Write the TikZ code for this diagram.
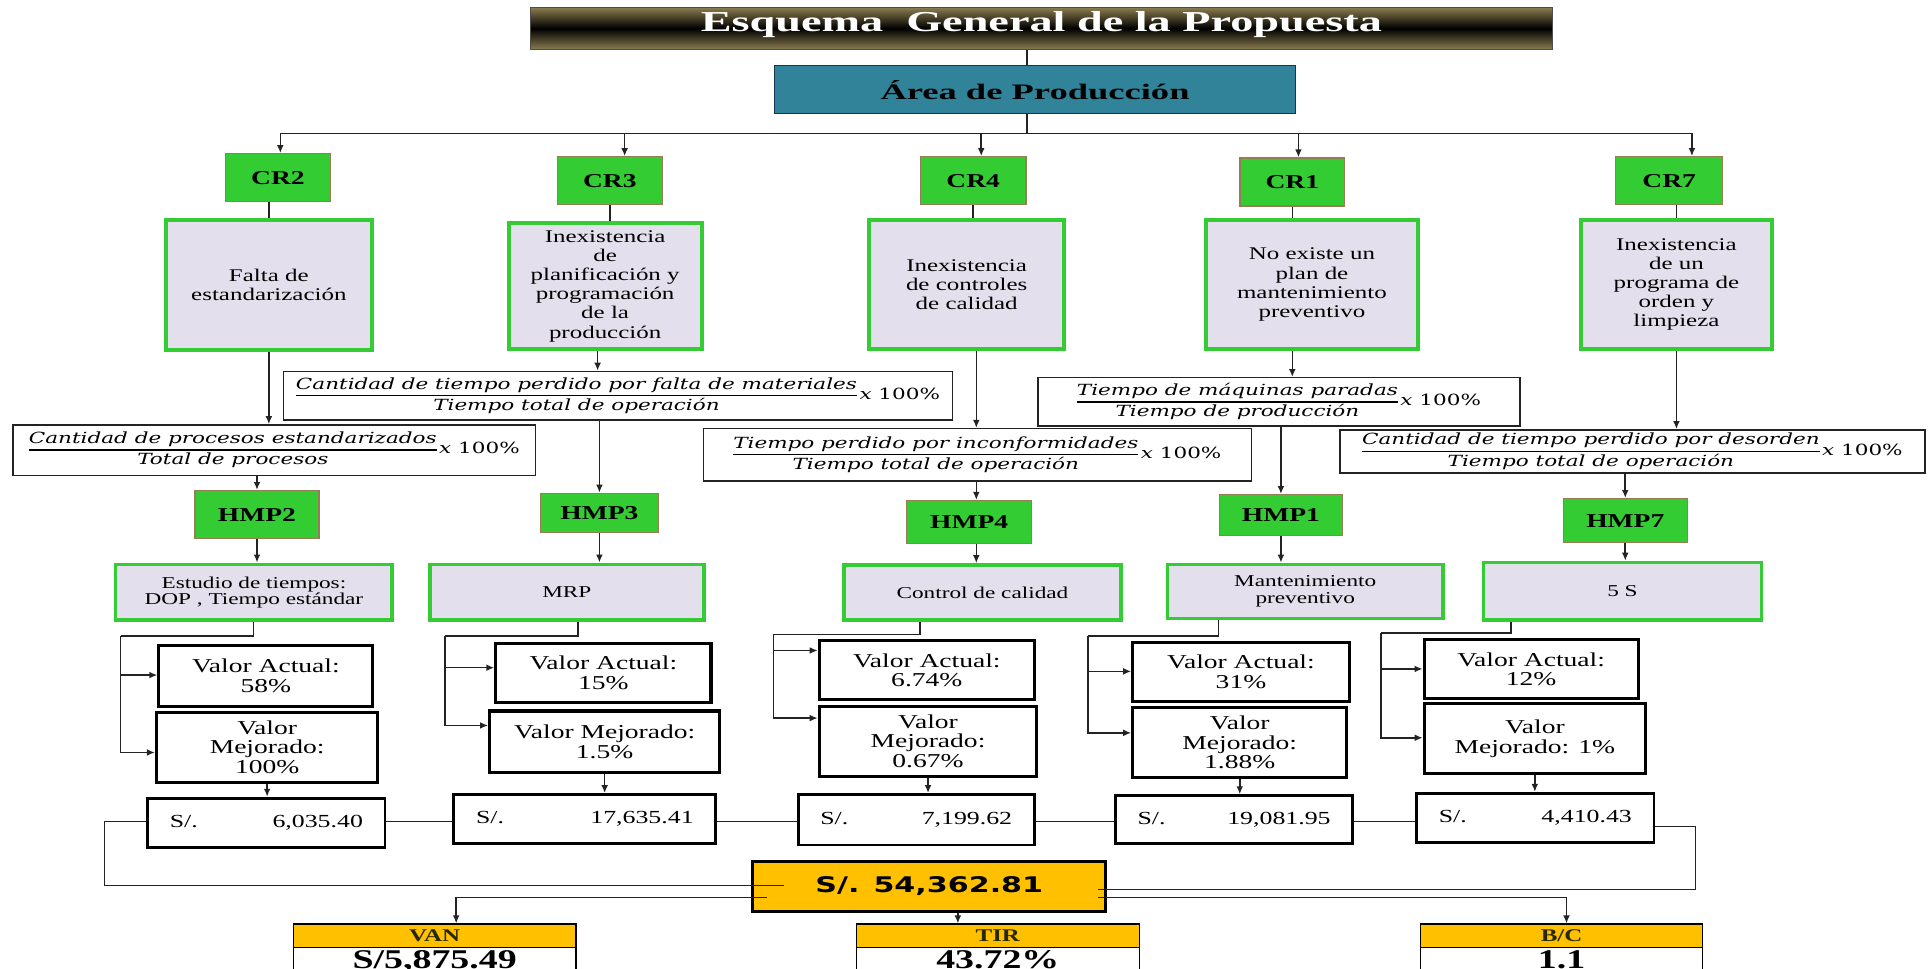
\documentclass[tikz,border=0pt]{standalone}
\usepackage{fontspec}
\setmainfont[FakeStretch=1.4]{Liberation Serif}
\newfontfamily\headfont[FakeStretch=1.6]{Liberation Serif}
\newfontfamily\areafont[FakeStretch=1.65]{Liberation Serif}
\newfontfamily\formfont[FakeStretch=1.4]{DejaVu Serif}
\newfontfamily\sumfont[FakeStretch=1.4]{DejaVu Sans}
\usetikzlibrary{arrows.meta}

\definecolor{crgreen}{RGB}{51,204,51}
\definecolor{crline}{RGB}{150,125,85}
\definecolor{lav}{RGB}{228,223,236}
\definecolor{areateal}{RGB}{48,131,153}
\definecolor{areaedge}{RGB}{30,50,80}
\definecolor{gold}{RGB}{255,192,0}
\definecolor{olivebar}{RGB}{140,126,80}
\definecolor{linegray}{RGB}{35,35,35}
\definecolor{headtext}{RGB}{40,40,0}

\setlength{\arrayrulewidth}{1.1pt}
\newcommand\ratio[2]{\renewcommand\arraystretch{1.08}\begin{tabular}{@{}c@{}}#1\\\hline #2\end{tabular}\,x {\upshape 100\%}}
\newcommand\money[2]{\hbox to #1pt{S/.\hfill #2}}

\tikzset{
  corners/.style n args={4}{at={(#1,#2)}, anchor=north west,
    minimum width={(#3-#1)*1pt}, minimum height={(#4-#2)*1pt}},
  titlebar/.style={draw=black!70, line width=0.8pt, top color=olivebar,
    bottom color=olivebar, middle color=black, text=white,
    font=\headfont\fontsize{23.5}{26}\selectfont\bfseries, inner sep=0pt,
    text height=16pt, text depth=11pt},
  areabox/.style={draw=areaedge, line width=1pt, fill=areateal,
    font=\areafont\fontsize{18}{21}\selectfont\bfseries, inner sep=0pt},
  crbox/.style={draw=crline, line width=1pt, fill=crgreen,
    font=\fontsize{16}{18}\selectfont\bfseries, inner sep=0pt},
  probbox/.style={draw=crgreen, line width=3.3pt, fill=lav, align=center,
    font=\fontsize{14.5}{15.5}\selectfont, inner sep=1pt},
  toolbox/.style={draw=crgreen, line width=3pt, fill=lav, align=center,
    font=\fontsize{13.5}{13.5}\selectfont, inner sep=1pt},
  formbox/.style={draw=linegray, line width=1.2pt, fill=white, inner sep=0pt,
    font=\formfont\itshape\fontsize{12.5}{15}\selectfont},
  valbox/.style={draw=black, line width=2.5pt, fill=white, align=center,
    font=\fontsize{16}{16}\selectfont, inner sep=1pt},
  moneybox/.style={draw=black, line width=2.3pt, fill=white,
    font=\fontsize{15}{17}\selectfont, inner xsep=18pt, inner ysep=0pt},
  totbox/.style={draw=black, line width=2.5pt, fill=gold,
    font=\sumfont\bfseries\fontsize{17.5}{20}\selectfont, inner sep=0pt},
  headbox/.style={draw=black, line width=1pt, fill=gold, text=headtext,
    font=\fontsize{14.5}{16}\selectfont\bfseries, inner sep=0pt},
  resbox/.style={draw=black, line width=1pt, fill=white, inner sep=0pt},
  restext/.style={anchor=base, font=\fontsize{22}{24}\selectfont\bfseries},
  conn/.style={draw=linegray, line width=1.3pt},
  arr/.style={conn, -{Latex[length=6.5pt,width=5.5pt]}},
}

\begin{document}
\begin{tikzpicture}[x=1pt, y=-1pt]
\clip (0,0) rectangle (1568,788);
\fill[white] (0,0) rectangle (1568,788);

% header
\node[titlebar, corners={431}{5.4}{1262}{40}] (title) {Esquema\ \ General de la Propuesta};
\node[areabox, corners={629.5}{53}{1053}{92}] (area) {Área de Producción};

% root causes
\node[crbox, corners={183}{124.5}{268}{163.5}] (cr2) {CR2};
\node[crbox, corners={453}{127}{538}{166}] (cr3) {CR3};
\node[crbox, corners={748}{127}{834}{166}] (cr4) {CR4};
\node[crbox, corners={1008}{128}{1093}{167}] (cr1) {CR1};
\node[crbox, corners={1313.5}{127}{1400.5}{166}] (cr7) {CR7};

\node[probbox, corners={133}{177}{301}{283}] (p2) {Falta de\\estandarización};
\node[probbox, corners={412}{180}{569}{282.5}] (p3) {Inexistencia\\de\\planificación y\\programación\\de la\\producción};
\node[probbox, corners={705}{177}{864}{282.5}] (p4) {Inexistencia\\de controles\\de calidad};
\node[probbox, corners={979}{177}{1151.6}{282.5}] (p1) {No existe un\\plan de\\mantenimiento\\preventivo};
\node[probbox, corners={1284}{177}{1439.5}{282.5}] (p7) {Inexistencia\\de un\\programa de\\orden y\\limpieza};

% indicators
\node[formbox, corners={10}{345}{435}{386}] (f2) {\ratio{Cantidad de procesos estandarizados}{Total de procesos}};
\node[formbox, corners={230}{301.5}{774}{341}] (f3) {\ratio{Cantidad de tiempo perdido por falta de materiales}{Tiempo total de operación}};
\node[formbox, corners={571.5}{348}{1017}{390.4}] (f4) {\ratio{Tiempo perdido por inconformidades}{Tiempo total de operación}};
\node[formbox, corners={843.6}{306.6}{1235.5}{346}] (f1) {\ratio{Tiempo de máquinas paradas}{Tiempo de producción}};
\node[formbox, corners={1089}{349}{1565}{384}] (f7) {\ratio{Cantidad de tiempo perdido por desorden}{Tiempo total de operación}};

% improvement tools
\node[crbox, corners={158}{398.5}{259}{437.6}] (h2) {HMP2};
\node[crbox, corners={439}{400.7}{535}{432.7}] (h3) {HMP3};
\node[crbox, corners={737}{406.6}{838.5}{441.8}] (h4) {HMP4};
\node[crbox, corners={991.5}{401.8}{1091}{435}] (h1) {HMP1};
\node[crbox, corners={1271}{405}{1371.6}{441}] (h7) {HMP7};

\node[toolbox, corners={92.5}{457.5}{317.5}{503}] (t2) {Estudio de tiempos:\\DOP , Tiempo estándar};
\node[toolbox, corners={348}{457.5}{571}{503}] (t3) {MRP};
\node[toolbox, corners={685}{458}{910}{503}] (t4) {Control de calidad};
\node[toolbox, corners={948}{457.6}{1172}{501.5}] (t1) {Mantenimiento\\preventivo};
\node[toolbox, corners={1205}{456}{1431}{503}] (t7) {5 S};

% current / improved values
\node[valbox, corners={128}{524}{302}{573}] (va2) {Valor Actual:\\58\%};
\node[valbox, corners={126}{578}{306}{635}] (vm2) {Valor\\Mejorado:\\100\%};
\node[valbox, corners={402}{522}{577}{570}] (va3) {Valor Actual:\\15\%};
\node[valbox, corners={397}{577}{584}{627}] (vm3) {Valor Mejorado:\\1.5\%};
\node[valbox, corners={665}{520}{840}{568}] (va4) {Valor Actual:\\6.74\%};
\node[valbox, corners={665}{573}{842}{630}] (vm4) {Valor\\Mejorado:\\0.67\%};
\node[valbox, corners={920}{521}{1096}{569}] (va1) {Valor Actual:\\31\%};
\node[valbox, corners={920}{574}{1094}{631}] (vm1) {Valor\\Mejorado:\\1.88\%};
\node[valbox, corners={1157}{519}{1331}{567}] (va7) {Valor Actual:\\12\%};
\node[valbox, corners={1157}{571}{1337}{628}] (vm7) {Valor\\Mejorado: 1\%};

% savings
\node[moneybox, corners={119}{648}{312}{688}] (m2) {\money{157}{6,035.40}};
\node[moneybox, corners={368}{645}{581}{685}] (m3) {\money{177}{17,635.41}};
\node[moneybox, corners={648}{645}{840}{686}] (m4) {\money{156}{7,199.62}};
\node[moneybox, corners={906}{646}{1099}{685}] (m1) {\money{157}{19,081.95}};
\node[moneybox, corners={1151}{644}{1344}{684}] (m7) {\money{157}{4,410.43}};

\node[totbox, corners={611}{699}{898}{740}] (tot) {S/. 54,362.81};

% economic indicators
\node[headbox, corners={238}{751}{468}{770}] (vanh) {VAN};
\node[headbox, corners={696}{751}{926}{770}] (tirh) {TIR};
\node[headbox, corners={1155}{751}{1384}{770}] (bch) {B/C};
\node[resbox, corners={238}{770}{468}{800}] (vanv) {};
\node[resbox, corners={696}{770}{926}{800}] (tirv) {};
\node[resbox, corners={1155}{770}{1384}{800}] (bcv) {};
\coordinate (rb) at (0,788);
\node[restext] (vant) at (vanv.north |- rb) {S/5,875.49};
\node[restext] (tirt) at (tirv.north |- rb) {43.72\%};
\node[restext] (bct) at (bcv.north |- rb) {1.1};

% connector columns
\coordinate (c0) at (835,0);
\coordinate (bus) at (835,108.5);
\coordinate (b2) at (228,0);
\coordinate (b3) at (508,0);
\coordinate (b4) at (798,0);
\coordinate (b1) at (1056,0);
\coordinate (b7) at (1376,0);
\coordinate (c3) at (486,0);
\coordinate (c4) at (794,0);

\draw[conn] (title.south -| c0) -- (area.north -| c0);
\draw[conn] (area.south -| c0) -- (bus);
\draw[arr] (bus) -| (cr2.north -| b2);
\draw[arr] (bus) -| (cr3.north -| b3);
\draw[arr] (bus) -| (cr4.north -| b4);
\draw[arr] (bus) -| (cr1.north -| b1);
\draw[arr] (bus) -| (cr7.north -| b7);

\draw[conn] (p2.north) -- (p2.north |- cr2.south);
\draw[conn] (cr3.south) -- (cr3.south |- p3.north);
\draw[conn] (cr4.south) -- (cr4.south |- p4.north);
\draw[conn] (cr1.south) -- (cr1.south |- p1.north);
\draw[conn] (p7.north) -- (p7.north |- cr7.south);

\draw[arr] (p2.south) -- (p2.south |- f2.north);
\draw[arr] (p3.south -| c3) -- (f3.north -| c3);
\draw[arr] (p4.south -| c4) -- (f4.north -| c4);
\draw[arr] (cr1.south |- p1.south) -- (cr1.south |- f1.north);
\draw[arr] (p7.south) -- (p7.south |- f7.north);

\draw[arr] (h2.north |- f2.south) -- (h2.north);
\draw[arr] (h3.north |- f3.south) -- (h3.north);
\draw[arr] (f4.south -| c4) -- (h4.north -| c4);
\draw[arr] (h1.north |- f1.south) -- (h1.north);
\draw[arr] (h7.north |- f7.south) -- (h7.north);

\draw[arr] (h2.south) -- (h2.south |- t2.north);
\draw[arr] (h3.south) -- (h3.south |- t3.north);
\draw[arr] (h4.south -| c4) -- (t4.north -| c4);
\draw[arr] (h1.south) -- (h1.south |- t1.north);
\draw[arr] (h7.south) -- (h7.south |- t7.north);

% tool -> values branches
\coordinate (s2) at (206,0);  \coordinate (k2) at (98,517);
\coordinate (ya2) at (0,549); \coordinate (ym2) at (0,612);
\coordinate (s3) at (470,0);  \coordinate (k3) at (362,517);
\coordinate (ya3) at (0,543); \coordinate (ym3) at (0,590);
\coordinate (s4) at (748,0);  \coordinate (k4) at (629,516);
\coordinate (ya4) at (0,529); \coordinate (ym4) at (0,584);
\coordinate (s1) at (991,0);  \coordinate (k1) at (885,517);
\coordinate (ya1) at (0,546); \coordinate (ym1) at (0,596);
\coordinate (s7) at (1229,0); \coordinate (k7) at (1123,515);
\coordinate (ya7) at (0,544); \coordinate (ym7) at (0,600);

\draw[conn] (t2.south -| s2) |- (k2);
\draw[arr] (k2) |- (va2.west |- ya2);
\draw[arr] (k2) |- (vm2.west |- ym2);
\draw[conn] (t3.south -| s3) |- (k3);
\draw[arr] (k3) |- (va3.west |- ya3);
\draw[arr] (k3) |- (vm3.west |- ym3);
\draw[conn] (t4.south -| s4) |- (k4);
\draw[arr] (k4) |- (va4.west |- ya4);
\draw[arr] (k4) |- (vm4.west |- ym4);
\draw[conn] (t1.south -| s1) |- (k1);
\draw[arr] (k1) |- (va1.west |- ya1);
\draw[arr] (k1) |- (vm1.west |- ym1);
\draw[conn] (t7.south -| s7) |- (k7);
\draw[arr] (k7) |- (va7.west |- ya7);
\draw[arr] (k7) |- (vm7.west |- ym7);

\draw[arr] (vm2.south) -- (vm2.south |- m2.north);
\draw[arr] (vm3.south) -- (vm3.south |- m3.north);
\draw[arr] (vm4.south) -- (vm4.south |- m4.north);
\draw[arr] (vm1.south) -- (vm1.south |- m1.north);
\draw[arr] (vm7.south) -- (vm7.south |- m7.north);

% savings row and total
\coordinate (row) at (0,668);
\coordinate (row7) at (0,672);
\draw[conn] (m2.east |- row) -- (m3.west |- row);
\draw[conn] (m3.east |- row) -- (m4.west |- row);
\draw[conn] (m4.east |- row) -- (m1.west |- row);
\draw[conn] (m1.east |- row) -- (m7.west |- row);

\coordinate (lp) at (85,720);
\coordinate (rp) at (1379,723.5);
\coordinate (lstub) at (638,0);
\coordinate (rstub) at (893,0);
\draw[conn] (m2.west |- row) -| (lp) -- (lp -| lstub);
\draw[conn] (m7.east |- row7) -| (rp) -- (rp -| rstub);

\coordinate (by) at (0,730);
\coordinate (bl) at (624,0);
\coordinate (av) at (371,0);
\coordinate (ab) at (1274,0);
\coordinate (ax) at (779,0);
\draw[arr] (bl |- by) -| (vanh.north -| av);
\draw[arr] (rstub |- by) -| (bch.north -| ab);
\draw[arr] (tot.south -| ax) -- (tirh.north -| ax);
\end{tikzpicture}
\end{document}
